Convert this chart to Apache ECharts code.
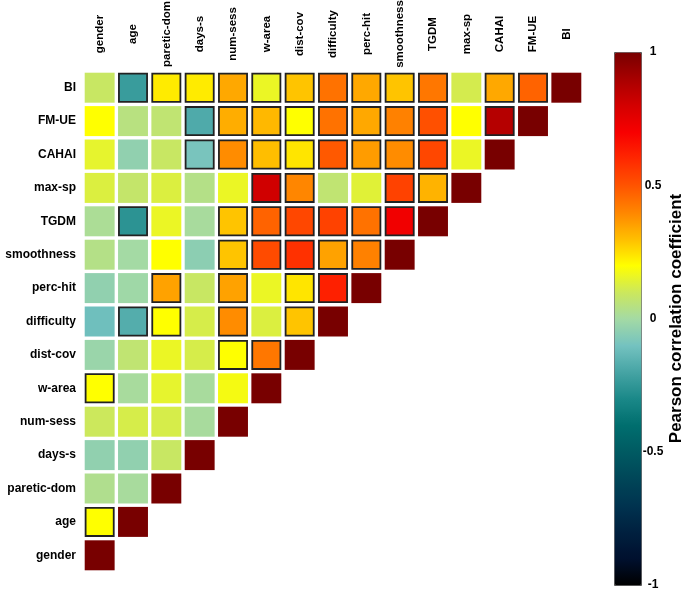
<!DOCTYPE html>
<html>
<head>
<meta charset="utf-8">
<script src="https://cdn.jsdelivr.net/npm/echarts@6/dist/echarts.min.js"></script>
<style>
html,body{margin:0;padding:0;background:#fff;}
#chart{width:685px;height:594px;}
</style>
</head>
<body>
<div id="chart"></div>
<script>
// Variables (index 0 at bottom of the y axis, left of the x axis)
const variables = ['gender','age','paretic-dom','days-s','num-sess','w-area','dist-cov','difficulty','perc-hit','smoothness','TGDM','max-sp','CAHAI','FM-UE','BI'];

// Lower-triangle Pearson correlation rows (row variable vs columns 0..i)
const rGender     = [1];
const rAge        = [0.20, 1];
const rParetic    = [0.03, 0.01, 1];
const rDays       = [-0.04, -0.04, 0.09, 1];
const rNumSess    = [0.10, 0.12, 0.12, 0.01, 1];
const rWArea      = [0.20, 0.01, 0.15, 0.01, 0.18, 1];
const rDistCov    = [-0.02, 0.07, 0.16, 0.12, 0.20, 0.43, 1];
const rDifficulty = [-0.11, -0.17, 0.20, 0.12, 0.39, 0.13, 0.29, 1];
const rPercHit    = [-0.04, -0.01, 0.35, 0.09, 0.35, 0.16, 0.24, 0.62, 1];
const rSmooth     = [0.04, 0.00, 0.20, -0.05, 0.29, 0.52, 0.58, 0.35, 0.41, 1];
const rTGDM       = [0.02, -0.26, 0.16, 0.01, 0.29, 0.47, 0.53, 0.54, 0.44, 0.72, 1];
const rMaxSp      = [0.13, 0.08, 0.13, 0.04, 0.16, 0.81, 0.40, 0.07, 0.14, 0.54, 0.32, 1];
const rCAHAI      = [0.15, -0.04, 0.09, -0.09, 0.39, 0.30, 0.24, 0.49, 0.36, 0.39, 0.53, 0.16, 1];
const rFMUE       = [0.20, 0.05, 0.07, -0.18, 0.33, 0.31, 0.20, 0.44, 0.34, 0.41, 0.51, 0.20, 0.87, 1];
const rBI         = [0.09, -0.23, 0.23, 0.23, 0.34, 0.16, 0.29, 0.44, 0.34, 0.29, 0.43, 0.115, 0.34, 0.47, 1];

// Significance flags (1 = significant, drawn with black outline)
const sGender     = [0];
const sAge        = [1, 0];
const sParetic    = [0, 0, 0];
const sDays       = [0, 0, 0, 0];
const sNumSess    = [0, 0, 0, 0, 0];
const sWArea      = [1, 0, 0, 0, 0, 0];
const sDistCov    = [0, 0, 0, 0, 1, 1, 0];
const sDifficulty = [0, 1, 1, 0, 1, 0, 1, 0];
const sPercHit    = [0, 0, 1, 0, 1, 0, 1, 1, 0];
const sSmooth     = [0, 0, 0, 0, 1, 1, 1, 1, 1, 0];
const sTGDM       = [0, 1, 0, 0, 1, 1, 1, 1, 1, 1, 0];
const sMaxSp      = [0, 0, 0, 0, 0, 1, 1, 0, 0, 1, 1, 0];
const sCAHAI      = [0, 0, 0, 1, 1, 1, 1, 1, 1, 1, 1, 0, 0];
const sFMUE       = [0, 0, 0, 1, 1, 1, 1, 1, 1, 1, 1, 0, 1, 0];
const sBI         = [0, 1, 1, 1, 1, 1, 1, 1, 1, 1, 1, 0, 1, 1, 0];

const colorbarTicks = [-1, -0.5, 0, 0.5, 1];

const rows = [rGender, rAge, rParetic, rDays, rNumSess, rWArea, rDistCov, rDifficulty, rPercHit, rSmooth, rTGDM, rMaxSp, rCAHAI, rFMUE, rBI];
const sigs = [sGender, sAge, sParetic, sDays, sNumSess, sWArea, sDistCov, sDifficulty, sPercHit, sSmooth, sTGDM, sMaxSp, sCAHAI, sFMUE, sBI];

const data = [];
rows.forEach((row, i) => {
  row.forEach((v, j) => { data.push([j, i, v, sigs[i][j]]); });
});

const cmap = ['#000000','#00102e','#00203f','#00334f','#004658','#005a62','#006e6e','#1a8888','#46a4a4','#74c2c0',
              '#a4daa4','#cce85c','#ffff00','#ffbe00','#ff8600','#ff5400','#ff2800','#f80000','#d40000','#a80000','#780000'];

const FONT = 'Liberation Sans, Arial, Helvetica, sans-serif';
const chart = echarts.init(document.getElementById('chart'), null, {renderer: 'canvas'});

chart.setOption({
  animation: false,
  backgroundColor: '#ffffff',
  grid: [
    {left: 83, top: 71, width: 500, height: 501, outerBoundsMode: 'none', containLabel: false},
    {left: 614, top: 52, width: 27, height: 533, outerBoundsMode: 'none', containLabel: false}
  ],
  xAxis: [
    {
      type: 'category', data: variables, position: 'top', gridIndex: 0,
      axisLine: {show: false}, axisTick: {show: false}, splitLine: {show: false},
      axisLabel: {interval: 0, rotate: -90, margin: 37, align: 'center', verticalAlign: 'middle',
                  fontFamily: FONT, fontSize: 11.5, fontWeight: 'bold', color: '#000'}
    },
    {type: 'value', gridIndex: 1, show: false, min: 0, max: 1}
  ],
  yAxis: [
    {
      type: 'category', data: variables, gridIndex: 0,
      axisLine: {show: false}, axisTick: {show: false}, splitLine: {show: false},
      axisLabel: {interval: 0, margin: 7, fontFamily: FONT, fontSize: 12, fontWeight: 'bold', color: '#000'}
    },
    {
      type: 'value', gridIndex: 1, position: 'right', min: colorbarTicks[0], max: colorbarTicks[colorbarTicks.length - 1], interval: 0.5,
      axisLine: {show: false}, axisTick: {show: false}, splitLine: {show: false},
      axisLabel: {margin: 12, align: 'center', fontFamily: FONT, fontSize: 12, fontWeight: 'bold', color: '#000'},
      name: 'Pearson correlation coefficient', nameLocation: 'middle', nameRotate: 90, nameGap: 27,
      nameTextStyle: {fontFamily: FONT, fontSize: 17, fontWeight: 'bold', color: '#000'}
    }
  ],
  visualMap: {
    type: 'continuous', min: -1, max: 1, dimension: 2, seriesIndex: 0,
    orient: 'vertical', left: 614, top: 52, itemWidth: 27, itemHeight: 533,
    calculable: false, padding: 0, borderColor: '#555', borderWidth: 1,
    inRange: {color: cmap}, textStyle: {color: 'transparent'}
  },
  series: [{
    type: 'custom',
    xAxisIndex: 0, yAxisIndex: 0,
    data: data,
    encode: {x: 0, y: 1},
    renderItem: function (params, api) {
      const c = api.coord([api.value(0), api.value(1)]);
      const s = api.size([1, 1]);
      const w = s[0] - 3.4, h = s[1] - 3.4;
      const sig = api.value(3) === 1;
      const inset = sig ? 0.9 : 0;
      return {
        type: 'rect',
        shape: {x: c[0] - w / 2 + inset, y: c[1] - h / 2 + inset, width: w - 2 * inset, height: h - 2 * inset},
        style: {fill: api.visual('color'), stroke: sig ? '#222' : null, lineWidth: sig ? 1.8 : 0}
      };
    }
  }]
});
</script>
</body>
</html>
